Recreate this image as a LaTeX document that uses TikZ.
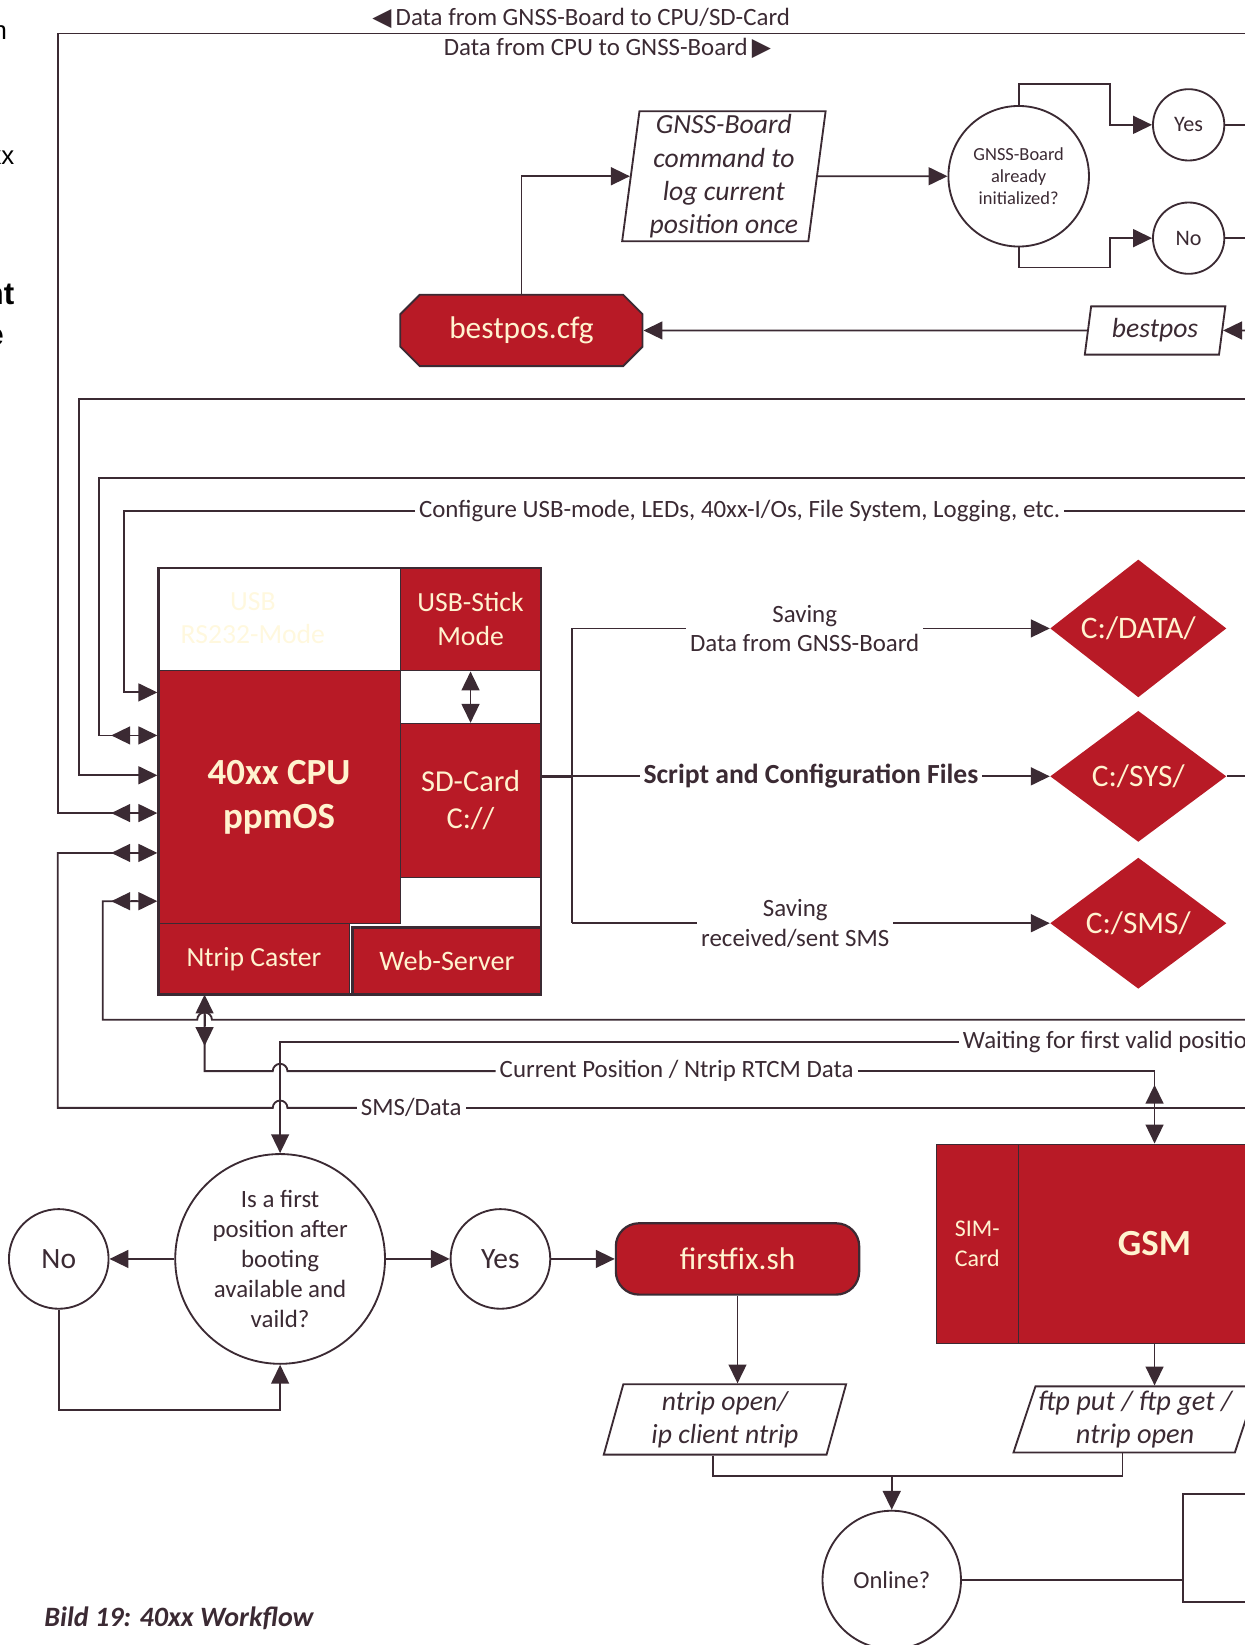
\documentclass[tikz,border=0pt]{standalone}
\usepackage{fontspec}
\setmainfont{Carlito}
\newfontfamily\symbfont{DejaVu Sans}
\newfontfamily\cutfont{Liberation Sans}
\usepackage{xcolor}
\usepackage{tikz}
\usetikzlibrary{
  arrows.meta,
  positioning,
  shapes.geometric,
  shapes.misc,
  calc
}

\definecolor{ink}{HTML}{3B2A33}
\definecolor{ppred}{HTML}{B81A26}
\definecolor{cream}{HTML}{FFF3CF}
\definecolor{faint}{HTML}{FFF8DE}

\begin{document}
\begin{tikzpicture}[
  x=0.02cm, y=-0.02cm,
  color=ink,
  wire/.style={draw=ink, line width=1pt},
  pipe/.style={wire, -{Triangle[length=0.36cm, width=0.34cm]}},
  updown/.style={wire, {Triangle[length=0.36cm, width=0.34cm]}-{Triangle[length=0.36cm, width=0.34cm]}},
  twin/.style={wire, -{Triangle[reversed, length=0.36cm, width=0.34cm]Rectangle[length=#1, width=1pt]Triangle[length=0.36cm, width=0.34cm]}},
  twin/.default=0.16cm,
  redbox/.style={rectangle, fill=ppred, draw=ink, line width=0.6pt, text=cream, inner sep=0pt, anchor=north west, align=center},
  ring/.style={circle, draw=ink, line width=1pt, fill=white, inner sep=0pt, align=center},
  para/.style={trapezium, trapezium stretches body, draw=ink, line width=1pt, fill=white, inner sep=0pt, align=center, font=\itshape\fontsize{15}{18}\selectfont},
  store/.style={diamond, fill=ppred, text=cream, inner sep=0pt, minimum width=3.36cm, minimum height=2.5cm, font=\fontsize{17}{20}\selectfont},
  lbl/.style={fill=white, inner xsep=2pt, inner ysep=1pt, align=center, font=\fontsize{13.5}{16}\selectfont},
]
\useasboundingbox (0,0) rectangle (1186,1568);

% cut-off text on the left
\node[anchor=base east, inner sep=0pt, text=black, font=\cutfont\fontsize{14}{16}\selectfont] (frag1) at (7,38) {n};
\node[anchor=base east, inner sep=0pt, text=black, font=\cutfont\fontsize{14}{16}\selectfont] (frag2) at (14,157) {xx};
\node[anchor=base east, inner sep=0pt, text=black, font=\cutfont\bfseries\fontsize{17}{20}\selectfont] (frag3) at (14,290) {nt};
\node[anchor=base east, inner sep=0pt, text=black, font=\cutfont\bfseries\fontsize{17}{20}\selectfont] (frag4) at (4,329) {e};

% board
\node[align=center, text=faint, font=\fontsize{15}{18}\selectfont] (rs232) at (241,589) {USB\\RS232-Mode};
\node[redbox, minimum width=2.68cm, minimum height=1.98cm, font=\fontsize{15}{18}\selectfont] (usb) at (381,540) {USB-Stick\\Mode};
\node[redbox, minimum width=4.62cm, minimum height=4.82cm, font=\bfseries\fontsize{20}{24}\selectfont] (cpu) at (150,639) {40xx CPU\\ppmOS};
\node[redbox, minimum width=2.68cm, minimum height=2.94cm, font=\fontsize{16.5}{20}\selectfont] (sd) at (381,689) {SD-Card\\C://};
\node[redbox, minimum width=3.66cm, minimum height=1.34cm, font=\fontsize{15}{18}\selectfont] (caster) at (150,880) {Ntrip Caster};
\node[redbox, line width=1.2pt, minimum width=3.6cm, minimum height=1.28cm, font=\fontsize{15.3}{18}\selectfont] (web) at (335,883) {Web-Server};
\node[draw=ink, line width=1.2pt, inner sep=0pt, anchor=north west, minimum width=7.3cm, minimum height=8.14cm] (board) at (150,540) {};

\coordinate (p1) at ($(cpu.north west)+(0,21)$);
\coordinate (p2) at ($(cpu.north west)+(0,62)$);
\coordinate (p3) at ($(cpu.north west)+(0,100)$);
\coordinate (p4) at ($(cpu.north west)+(0,136)$);
\coordinate (p5) at ($(cpu.north west)+(0,174)$);
\coordinate (p6) at ($(cpu.north west)+(0,220)$);
\coordinate (ntin) at ($(caster.south west)+(45,0)$);

% storage
\node[store] (data) at (1085,599) {C:/DATA/};
\node[store] (sys) at (1085,740) {C:/SYS/};
\node[store] (sms) at (1085,880) {C:/SMS/};
\coordinate (bus) at (545,740);
\node[lbl] (save1) at (767,599) {Saving\\Data from GNSS-Board};
\node[lbl, font=\bfseries\fontsize{15}{18}\selectfont] (scripts) at (773,740) {Script and Configuration Files};
\node[lbl] (save2) at (758,880) {Saving\\received/sent SMS};

% top
\node[chamfered rectangle, chamfered rectangle xsep=0.46cm, fill=ppred, draw=ink, line width=1pt, text=cream, minimum width=4.62cm, minimum height=1.36cm, inner sep=0pt, font=\fontsize{17}{20}\selectfont] (cfgfile) at (497,315) {bestpos.cfg};
\node[para, trapezium left angle=82, trapezium right angle=98, minimum width=3.88cm, minimum height=2.48cm] (cmd) at (690,168) {GNSS-Board\\command to\\log current\\position once};
\node[ring, minimum size=2.68cm, font=\fontsize{10}{12}\selectfont] (check) at (971,168) {GNSS-Board\\already\\initialized?};
\node[ring, minimum size=1.36cm, font=\fontsize{12}{14}\selectfont] (yes1) at (1133,119) {Yes};
\node[ring, minimum size=1.36cm, font=\fontsize{12}{14}\selectfont] (no1) at (1133,227) {No};
\node[para, trapezium left angle=75, trapezium right angle=105, minimum width=2.68cm, minimum height=0.92cm] (bestpos) at (1101,315) {bestpos};

% bottom
\node[ring, minimum size=4cm, font=\fontsize{13.5}{16.2}\selectfont] (first) at (267,1200) {Is a first\\position after\\booting\\available and\\vaild?};
\node[ring, minimum size=1.9cm, font=\fontsize{16}{18}\selectfont] (no2) at (56,1200) {No};
\node[ring, minimum size=1.9cm, font=\fontsize{16}{18}\selectfont] (yes2) at (477,1200) {Yes};
\node[rectangle, rounded corners=0.44cm, fill=ppred, draw=ink, line width=1.2pt, text=cream, minimum width=4.64cm, minimum height=1.36cm, font=\fontsize{17}{20}\selectfont] (fix) at (703,1200) {firstfix.sh};
\node[para, trapezium left angle=71, trapezium right angle=109, minimum width=4.62cm, minimum height=1.34cm] (ntrip) at (691,1353) {ntrip open/\\ip client ntrip};
\node[redbox, minimum width=1.56cm, minimum height=3.8cm, align=left, font=\fontsize{13}{16}\selectfont] (sim) at (892,1090) {SIM-\\Card};
\node[redbox, minimum width=5.2cm, minimum height=3.8cm, font=\bfseries\fontsize{20}{22}\selectfont] (gsm) at (970,1090) {GSM};
\node[para, trapezium left angle=69, trapezium right angle=111, minimum width=4.64cm, minimum height=1.26cm, font=\itshape\fontsize{15.4}{18}\selectfont] (ftp) at (1082,1353) {ftp put / ftp get /\\ntrip open};
\node[ring, minimum size=2.64cm, font=\fontsize{13.3}{16}\selectfont] (online) at (850,1506) {Online?};
\node[rectangle, draw=ink, line width=1pt, anchor=north west, minimum width=3.6cm, minimum height=2.06cm] (box) at (1127,1423) {};
\coordinate (j0) at (850,1407);
\coordinate (j1) at (680,1407);
\coordinate (j2) at (1070,1407);

% labels on the lines
\node[font=\fontsize{13.5}{16}\selectfont] (gnssup) at (554,18) {{\symbfont ◀}\,Data from GNSS-Board to CPU/SD-Card};
\node[font=\fontsize{13.5}{16}\selectfont] (gnssdown) at (579,46) {Data from CPU to GNSS-Board\,{\symbfont ▶}};
\node[lbl] (cfglbl) at (705,487) {Configure USB-mode, LEDs, 40xx-I/Os, File System, Logging, etc.};
\node[lbl] (cposlbl) at (645,1021) {Current Position / Ntrip RTCM Data};
\node[lbl] (smslbl) at (392,1056) {SMS/Data};
\node[lbl, anchor=west] (waitlbl) at (914,993) {Waiting for first valid position};

\coordinate (topin) at (1200,32);
\coordinate (rowa) at (1200,380);
\coordinate (rowb) at (1200,456);
\coordinate (cfgin) at (1200,487);
\coordinate (rowc) at (1200,972);
\coordinate (smsin) at (1200,1056);
\coordinate (yesout) at (1200,119);
\coordinate (noout) at (1200,227);
\coordinate (bpin) at (1200,315);
\coordinate (sysout) at (1200,740);

% into the cpu
\draw[wire] (cfgin) -- (cfglbl);
\draw[pipe] (cfglbl) -| (118,660) -- (p1);
\draw[twin] (rowb) -| (94,701) -- (p2);
\draw[pipe] (rowa) -| (75,739) -- (p3);
\draw[twin] (topin) -| (55,775) -- (p4);
\draw[wire] (smsin) -- (smslbl);
\draw[twin] (smslbl) -- (274,1056) arc[start angle=0, end angle=180, radius=0.14cm] -- (55,1056) |- (p5);
\draw[twin] (rowc) -- (202,972) arc[start angle=0, end angle=180, radius=0.14cm] -- (98,972) |- (p6);
\draw[twin=0.26cm] (cposlbl) -- (274,1021) arc[start angle=0, end angle=180, radius=0.14cm] -- (195,1021) -- (ntin);
\draw[twin=0.4cm] (cposlbl) -| (gsm.north);
\draw[pipe] (waitlbl) -| (first);

% gnss board
\draw[pipe] (cfgfile) |- (cmd);
\draw[pipe] (cmd) -- (check);
\draw[pipe] (check) |- (1058,80) |- (yes1);
\draw[pipe] (check) |- (1058,255) |- (no1);
\draw[wire] (yes1) -- (yesout);
\draw[wire] (no1) -- (noout);
\draw[pipe] (bpin) -- (bestpos);
\draw[pipe] (bestpos) -- (cfgfile);

% sd-card
\draw[updown] (usb) -- (sd);
\draw[wire, line width=1.6pt] (sd.east |- bus) -- (bus);
\draw[wire] (bus |- data) -- (bus |- sms);
\draw[wire] (bus |- data) -- (save1);
\draw[pipe] (save1) -- (data);
\draw[wire] (bus) -- (scripts);
\draw[pipe] (scripts) -- (sys);
\draw[wire] (bus |- sms) -- (save2);
\draw[pipe] (save2) -- (sms);
\draw[wire] (sys) -- (sysout);

% first fix
\draw[pipe] (first) -- (no2);
\draw[pipe] (first) -- (yes2);
\draw[pipe] (yes2) -- (fix);
\draw[pipe] (no2) |- (267,1344) -- (first);
\draw[pipe] (fix) -- (fix |- ntrip.north);
\draw[pipe] (gsm) -- (gsm |- ftp.north);
\draw[wire] (ntrip.south -| j1) |- (j2) -- (ftp.south -| j2);
\draw[pipe] (j0) -- (online);
\draw[wire] (online) -- (online -| box.west);

\node[anchor=west, inner sep=0pt, font=\bfseries\itshape\fontsize{15.2}{17}\selectfont] (caption) at (42,1543) {Bild 19: 40xx Workflow};
\end{tikzpicture}
\end{document}
